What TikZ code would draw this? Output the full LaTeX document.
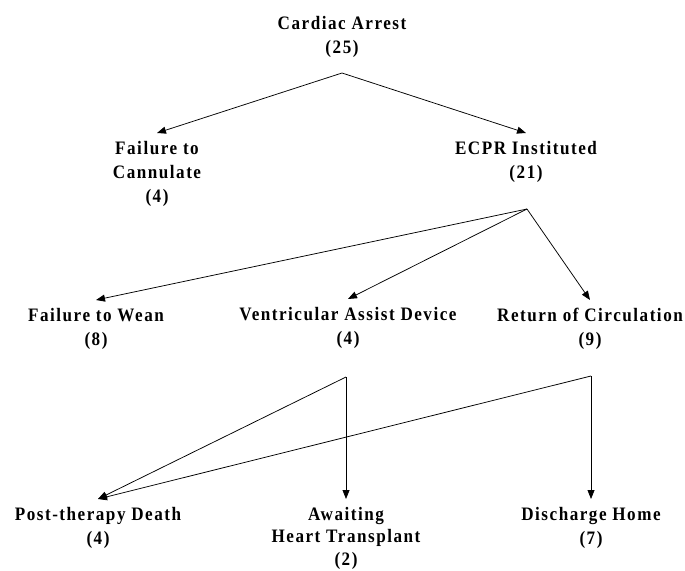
\documentclass[tikz,border=0pt]{standalone}
\usepackage{fontspec}
\usepackage{tikz}
\usetikzlibrary{arrows.meta,positioning}
\newfontfamily\flowfont[FakeStretch=0.9,LetterSpace=8]{Liberation Serif}
\begin{document}
\begin{tikzpicture}[
  x=1pt, y=-1pt,
  outcome/.style={align=center, anchor=north, inner xsep=0pt, inner ysep=8pt,
                  font=\flowfont\bfseries\fontsize{19}{24}\selectfont},
  arr/.style={-{Triangle[length=9pt,width=7pt]}, black, line width=0.75pt},
]
\useasboundingbox (0,0) rectangle (685,570);

\node[outcome] (arrest) at (342,8) {Cardiac Arrest\\(25)};
\node[outcome] (nocann) at (157,133) {Failure to\\Cannulate\\(4)};
\node[outcome] (ecpr) at (526,133) {ECPR Instituted\\(21)};
\node[outcome] (nowean) at (96,300) {Failure to Wean\\(8)};
\node[outcome] (vad) at (348,299) {Ventricular Assist Device\\(4)};
\node[outcome] (roc) at (590,300) {Return of Circulation\\(9)};
\node[outcome] (death) at (98,499) {Post-therapy Death\\(4)};
\node[outcome, font=\flowfont\bfseries\fontsize{19}{22.5}\selectfont] (wait) at (346,499) {Awaiting\\Heart Transplant\\(2)};
\node[outcome] (home) at (591,499) {Discharge Home\\(7)};

% branch points
\coordinate (splitA) at (342,73);
\coordinate (splitB) at (527,209);
\coordinate (splitC) at (346,377);
\coordinate (splitD) at (591,376);

\draw[arr] (splitA) -- (nocann.north);
\draw[arr] (splitA) -- (ecpr.north);
\draw[arr] (splitB) -- (nowean.north);
\draw[arr] (splitB) -- (vad.north);
\draw[arr] (splitB) -- (roc.north);
\draw[arr] (splitC) -- (death.north);
\draw[arr] (splitC) -- (wait.north);
\draw[arr] (splitD) -- (death.north);
\draw[arr] (splitD) -- (home.north);
\end{tikzpicture}
\end{document}
